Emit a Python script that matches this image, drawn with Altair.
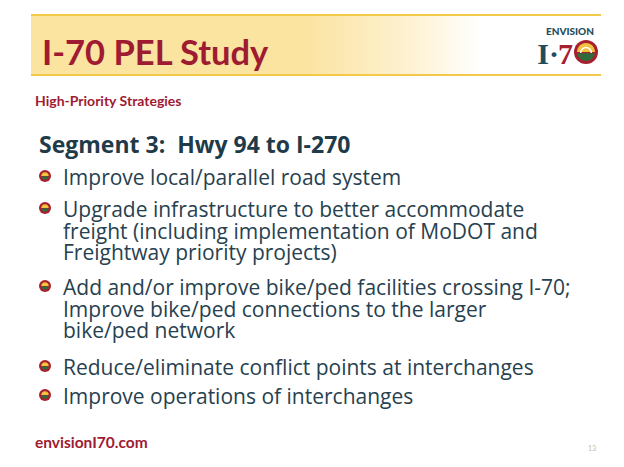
import altair as alt
import pandas as pd

# ---------------- slide content ----------------
TITLE = ["I-70 PEL Study"]
SUBTITLE = ["High-Priority Strategies"]
HEADING = ["Segment 3:\u00a0 Hwy 94 to I-270"]
BULLET_LINES = [
    ["Improve local/parallel road system"],
    ["Upgrade infrastructure to better accommodate",
     "freight (including implementation of MoDOT and",
     "Freightway priority projects)"],
    ["Add and/or improve bike/ped facilities crossing I-70;",
     "Improve bike/ped connections to the larger",
     "bike/ped network"],
    ["Reduce/eliminate conflict points at interchanges"],
    ["Improve operations of interchanges"],
]
FOOTER = ["envisionI70.com"]
PAGE_NO = ["13"]
LOGO_WORD = ["ENVISION"]
LOGO_TEAL = ["I\u00b7"]
LOGO_RED = ["7"]

# ---------------- layout (slide pixels, origin top-left) ----------------
X_DOM = [8, 608]
Y_DOM = [8, 452]
BANNER = dict(x=[31], x2=[601], y=[15], y2=[75])
BANNER_LINES_Y = [15, 75]
RAY_ID = ["a", "a", "a", "b", "b", "c", "c"]
RAY_Y = [15, 22, 75, 15, 75, 15, 75]
RAY_L = [31, 31, 143, 175, 255, 298, 290]
RAY_R = [152, 158, 205, 258, 265, 355, 305]
WEDGE_Y = [28, 75]
WEDGE_L = [460, 360]
WEDGE_R = [462, 472]
FIRST_BASELINE = [185, 217, 295, 375, 404]
LINE_STEP = 21.5
TEXT_X = 63
BULLET_X = 45

TEAL = "#1E4D5B"
RED = "#9E1B32"
RING = "#A8202F"
BODY = "#27414F"
GREEN = "#2F6B3C"
SUN = "#F2C33F"

xs = alt.Scale(domain=X_DOM, nice=False, zero=False)
ys = alt.Scale(domain=Y_DOM, nice=False, zero=False, reverse=True)


def ex(f="x"):
    return alt.X(f"{f}:Q", scale=xs, axis=None)


def ey(f="y"):
    return alt.Y(f"{f}:Q", scale=ys, axis=None)


def text_layer(texts, xpos, ypos, **style):
    df = pd.DataFrame({"x": xpos, "y": ypos, "t": texts})
    return alt.Chart(df).mark_text(align=style.pop("align", "left"),
                                   baseline="alphabetic", **style).encode(
        x=ex(), y=ey(), text="t:N")


# banner background with fade
banner = alt.Chart(pd.DataFrame(BANNER)).mark_rect(
    fill=alt.LinearGradient(
        gradient="linear", x1=0, x2=1, y1=0, y2=0,
        stops=[alt.GradientStop(offset=0, color="#FBE3A0"),
               alt.GradientStop(offset=0.48, color="#FBE3A0"),
               alt.GradientStop(offset=0.66, color="#FDF1D0"),
               alt.GradientStop(offset=0.79, color="#FFFFFF"),
               alt.GradientStop(offset=1, color="#FFFFFF")])
).encode(x=ex(), x2="x2:Q", y=ey(), y2="y2:Q")

rays = alt.Chart(pd.DataFrame({"ray": RAY_ID, "y": RAY_Y, "xl": RAY_L, "xr": RAY_R})).mark_area(
    orient="horizontal", color="#F7D35F").encode(
    y=ey(), x=ex("xl"), x2="xr:Q", detail="ray:N", order="y:Q")

wedge = alt.Chart(pd.DataFrame({"y": WEDGE_Y, "xl": WEDGE_L, "xr": WEDGE_R})).mark_area(
    orient="horizontal",
    fill=alt.LinearGradient(
        gradient="linear", x1=0, x2=1, y1=0, y2=0,
        stops=[alt.GradientStop(offset=0, color="#F8D970"),
               alt.GradientStop(offset=1, color="#FFFCF2")])
).encode(y=ey(), x=ex("xl"), x2="xr:Q", order="y:Q")

lines = alt.Chart(pd.DataFrame({"y": BANNER_LINES_Y, "x": [31, 31], "x2": [601, 601]})).mark_rule(
    color="#F4C94A", strokeWidth=2).encode(x=ex(), x2="x2:Q", y=ey())

title = text_layer(TITLE, [42], [65], font="Lato", fontSize=34.5, fontWeight="bold", color=RED)
subtitle = text_layer(SUBTITLE, [35], [106], font="Lato", fontSize=14, fontWeight="bold", color=RED)
heading = text_layer(HEADING, [39], [153], font="Open Sans", fontSize=23, fontWeight="bold", color="#1F3A48")

# body: one multi-line text per bullet
body = text_layer(["\n".join(g) for g in BULLET_LINES], [TEXT_X] * len(BULLET_LINES), FIRST_BASELINE,
                  font="Open Sans", fontSize=21, color=BODY, lineBreak="\n", lineHeight=LINE_STEP)

# bullet icons
bdf = pd.DataFrame({"x": [BULLET_X] * len(FIRST_BASELINE), "y": [b - 9 for b in FIRST_BASELINE]})
TOP_HALF = "M-1,0A1,1,0,0,1,1,0Z"
BOT_HALF = "M-0.99,0.15A1,1,0,0,0,0.99,0.15Z"
ARCH = "M-0.6,0.1A0.6,0.6,0,0,1,0.6,0.1"
b_ring = alt.Chart(bdf).mark_point(shape="circle", filled=True, size=144, color=RING, opacity=1).encode(x=ex(), y=ey())
b_top = alt.Chart(bdf).mark_point(shape=TOP_HALF, filled=True, size=56, color=SUN, opacity=1).encode(x=ex(), y=ey())
b_bot = alt.Chart(bdf).mark_point(shape=BOT_HALF, filled=True, size=56, color=GREEN, opacity=1).encode(x=ex(), y=ey())

# logo
ldf = pd.DataFrame({"x": [586], "y": [52]})
l_ring = alt.Chart(ldf).mark_point(shape="circle", filled=True, size=576, color=RING, opacity=1).encode(x=ex(), y=ey())
l_top = alt.Chart(ldf).mark_point(shape=TOP_HALF, filled=True, size=320, color=SUN, opacity=1).encode(x=ex(), y=ey())
l_bot = alt.Chart(ldf).mark_point(shape=BOT_HALF, filled=True, size=320, color=GREEN, opacity=1).encode(x=ex(), y=ey())
l_arch = alt.Chart(ldf).mark_point(shape=ARCH, filled=False, size=320, color="white", strokeWidth=1.5, opacity=1).encode(x=ex(), y=ey())
logo_word = text_layer(LOGO_WORD, [570], [35], align="center", font="Lato", fontSize=10,
                       fontWeight=900, color=TEAL)
logo_i = text_layer(LOGO_TEAL, [559], [64], align="right", font="Liberation Serif", fontSize=30,
                    fontWeight="bold", color=TEAL)
logo_7 = text_layer(LOGO_RED, [558], [64], align="left", font="Liberation Serif", fontSize=30,
                    fontWeight="bold", color=RING)

footer = text_layer(FOOTER, [35], [448], font="Lato", fontSize=15.5, fontWeight="bold", color=RED)
page = text_layer(PAGE_NO, [588], [451], font="Lato", fontSize=7, color="#BBBBBB")

chart = alt.layer(
    banner, rays, wedge, lines, title, logo_word, logo_i, logo_7, l_ring, l_top, l_bot, l_arch,
    subtitle, heading, b_ring, b_top, b_bot, body, footer, page
).properties(
    width=X_DOM[1] - X_DOM[0], height=Y_DOM[1] - Y_DOM[0], padding=0,
    autosize=alt.AutoSizeParams(type="none"), background="white"
).configure_view(stroke=None)

chart.save("out.html", embed_options={"renderer": "svg", "actions": False})
